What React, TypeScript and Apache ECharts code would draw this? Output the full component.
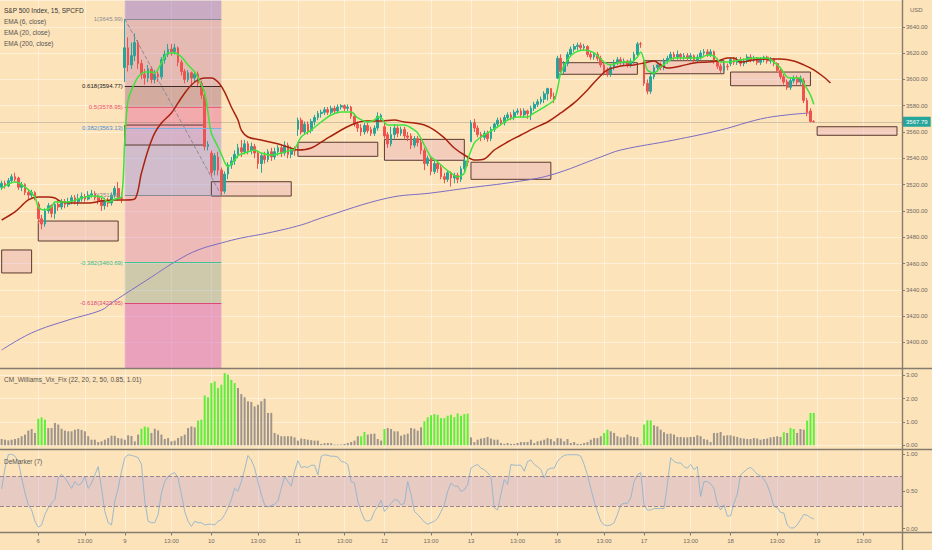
import React, { useRef, useEffect } from 'react';
import * as echarts from 'echarts';

const FONT = 'Liberation Sans, Arial, sans-serif';

// trading days on the time axis (Nov 5 only from 13:15 on)
const days = ['11-05', '11-06', '11-09', '11-10', '11-11', '11-12', '11-13', '11-16', '11-17', '11-18', '11-19'];
const firstTime = '13:15';

// 15 min candles, [open, close, low, high]
const nov5 = [
  [3518, 3521, 3516, 3523], [3521, 3519, 3517, 3523], [3519, 3523, 3518, 3525], [3523, 3526, 3521, 3528],
  [3526, 3524, 3522, 3529], [3525, 3518, 3516, 3526], [3518, 3520, 3515, 3522], [3520, 3514, 3512, 3521],
  [3514, 3512, 3509, 3516], [3512, 3514, 3510, 3516], [3514, 3510.5, 3508, 3515],
];
const nov6 = [
  [3505, 3494, 3490, 3507], [3494, 3490, 3486, 3497], [3490, 3500, 3488, 3502], [3500, 3504, 3498, 3506],
  [3504, 3498, 3495, 3505], [3498, 3505, 3494, 3507], [3505, 3503, 3500, 3508], [3503, 3507, 3501, 3509],
  [3507, 3505, 3502, 3509], [3505, 3507, 3503, 3510], [3507, 3510, 3505, 3512], [3510, 3507, 3505, 3512],
  [3507, 3509, 3504, 3513], [3509, 3511, 3507, 3514], [3511, 3509, 3507, 3513], [3509, 3512, 3508, 3515],
  [3512, 3513, 3510, 3516], [3513, 3510, 3508, 3515], [3510, 3508, 3505, 3512], [3508, 3504, 3500, 3510],
  [3504, 3508, 3501, 3510], [3508, 3506, 3503, 3510], [3506, 3512, 3504, 3514], [3512, 3517, 3510, 3519],
  [3517, 3510, 3508, 3522], [3510, 3509.4, 3506, 3514],
];
const nov9 = [
  [3609, 3624, 3598, 3646], [3624, 3611, 3606, 3632], [3611, 3618, 3608, 3628], [3618, 3628, 3614, 3635],
  [3628, 3612, 3608, 3630], [3612, 3604, 3600, 3615], [3604, 3601, 3596, 3608], [3601, 3608, 3598, 3611],
  [3608, 3600, 3597, 3610], [3600, 3604, 3597, 3607], [3604, 3602, 3598, 3606], [3602, 3615, 3600, 3617],
  [3615, 3619, 3612, 3622], [3619, 3623, 3617, 3627], [3623, 3621, 3618, 3627], [3621, 3624, 3619, 3627],
  [3624, 3613, 3610, 3625], [3613, 3606, 3603, 3615], [3606, 3600, 3597, 3608], [3600, 3605, 3598, 3607],
  [3605, 3601, 3596, 3606], [3601, 3604, 3598, 3606], [3604, 3597, 3594, 3606], [3597, 3588, 3585, 3599],
  [3588, 3549, 3546, 3592], [3549, 3550.5, 3546, 3553],
];
const nov10 = [
  [3544, 3529, 3526, 3546], [3531, 3542, 3527, 3544], [3541, 3531, 3527, 3545], [3531, 3515, 3511.9, 3533],
  [3515, 3528, 3513, 3530], [3528, 3535, 3524, 3537], [3535, 3538, 3532, 3541], [3538, 3543, 3535, 3546],
  [3543, 3548, 3540, 3551], [3548, 3545, 3541, 3554], [3545, 3551, 3543, 3554], [3551, 3546, 3543, 3553],
  [3546, 3549, 3543, 3552], [3549, 3544, 3540, 3551], [3544, 3536, 3532, 3546], [3536, 3542, 3529, 3544],
  [3542, 3539, 3536, 3545], [3539, 3545, 3537, 3547], [3545, 3541, 3538, 3548], [3541, 3545, 3539, 3548],
  [3545, 3548, 3542, 3550], [3548, 3544, 3541, 3550], [3544, 3550, 3542, 3553], [3550, 3543, 3540, 3552],
  [3543, 3547, 3540, 3549], [3547, 3545.5, 3542, 3549],
];
const nov11 = [
  [3562, 3569, 3557, 3571], [3569, 3560, 3558, 3571], [3560, 3566, 3558, 3568], [3566, 3561, 3558, 3568],
  [3561, 3568, 3559, 3570], [3568, 3571, 3565, 3573], [3571, 3574, 3569, 3576], [3574, 3575, 3571, 3577],
  [3575, 3577, 3573, 3579], [3577, 3575, 3573, 3579], [3575, 3578, 3573, 3580], [3578, 3576, 3574, 3580],
  [3576, 3579, 3574, 3581], [3579, 3580, 3577, 3581.2], [3580, 3578, 3576, 3581], [3578, 3579, 3576, 3581],
  [3579, 3572, 3570, 3580], [3572, 3566, 3564, 3574], [3566, 3563, 3560, 3568], [3563, 3560, 3557, 3566],
  [3560, 3565, 3558, 3567], [3565, 3561, 3559, 3567], [3562, 3559, 3557, 3564], [3559, 3563, 3557, 3565],
  [3563, 3572, 3561, 3575], [3571, 3572.7, 3569, 3574],
];
const nov12 = [
  [3564, 3557, 3555, 3569], [3558, 3551, 3548, 3560], [3551, 3558, 3549, 3564], [3558, 3563, 3555, 3566],
  [3563, 3559, 3556, 3565], [3559, 3562, 3557, 3564], [3562, 3557, 3555, 3564], [3557, 3556, 3553, 3560],
  [3557, 3550, 3547, 3559], [3550, 3555, 3548, 3557], [3555, 3552, 3549, 3557], [3552, 3546, 3543, 3554],
  [3546, 3536, 3531, 3548], [3536, 3540, 3534, 3542], [3540, 3530, 3527, 3541], [3530, 3536, 3528, 3538],
  [3536, 3532, 3529, 3538], [3533, 3526, 3524, 3535], [3526, 3524, 3521, 3529], [3524, 3529, 3522, 3531],
  [3529, 3525, 3518.6, 3530], [3525, 3527, 3521, 3529], [3527, 3524, 3521, 3529], [3524, 3532, 3522, 3534],
  [3532, 3538, 3530, 3540], [3538, 3537, 3534, 3542],
];
const nov13 = [
  [3552.6, 3567, 3552.6, 3569], [3567, 3563, 3560, 3570], [3563, 3558, 3556, 3565], [3558, 3556, 3553, 3560],
  [3556, 3559, 3554, 3561], [3559, 3555, 3552.6, 3561], [3555, 3562, 3553, 3564], [3562, 3566, 3560, 3567],
  [3566, 3569, 3564, 3571], [3569, 3567, 3565, 3571], [3567, 3571, 3565, 3573], [3571, 3573, 3569, 3575],
  [3573, 3571, 3569, 3575], [3571, 3575, 3569, 3577], [3575, 3576, 3573, 3578], [3576, 3573, 3571, 3578],
  [3573, 3576, 3571, 3578], [3576, 3574, 3570, 3577], [3574, 3578, 3569, 3580], [3578, 3581, 3576, 3583],
  [3581, 3583, 3579, 3585], [3583, 3585, 3581, 3587], [3585, 3589, 3582, 3591], [3589, 3593, 3584, 3593.7],
  [3593, 3587, 3585, 3593.5], [3587, 3585.2, 3582, 3590],
];
const nov16 = [
  [3601, 3616, 3600.2, 3618], [3616, 3606, 3603, 3619], [3606, 3612, 3604, 3614], [3612, 3619, 3610, 3621],
  [3619, 3623, 3617, 3625], [3623, 3625, 3621, 3627], [3625, 3626, 3622, 3628], [3626, 3624, 3622, 3628],
  [3624, 3625, 3622, 3627], [3625, 3619, 3617, 3626], [3619, 3617, 3615, 3621], [3617, 3619, 3615, 3621],
  [3619, 3616, 3614, 3621], [3616, 3611, 3609, 3618], [3611, 3605, 3603, 3613], [3607, 3604, 3602, 3609],
  [3604, 3609, 3602, 3611], [3609, 3613, 3607, 3615], [3613, 3615, 3611, 3617], [3615, 3613, 3611, 3617],
  [3613, 3614, 3610, 3616], [3614, 3611, 3609, 3615], [3611, 3614, 3609, 3616], [3614, 3619, 3612, 3621],
  [3619, 3627, 3617, 3628.5], [3627, 3626.9, 3624, 3628.5],
];
const nov17 = [
  [3613, 3597, 3595, 3615], [3597, 3591, 3588.7, 3600], [3591, 3602, 3589, 3604], [3602, 3609, 3600, 3611],
  [3609, 3611, 3606, 3613], [3611, 3609, 3607, 3613], [3609, 3614, 3607, 3616], [3614, 3616, 3612, 3618],
  [3616, 3619, 3614, 3621], [3619, 3617, 3615, 3621], [3617, 3619, 3615, 3622], [3619, 3617, 3615, 3620],
  [3617, 3618, 3615, 3620], [3618, 3616, 3614, 3620], [3616, 3618, 3614, 3620], [3618, 3615, 3613, 3619],
  [3615, 3617, 3613, 3619], [3617, 3620, 3615, 3622], [3620, 3621, 3618, 3623.1], [3621, 3619, 3617, 3623],
  [3619, 3621, 3617, 3623], [3621, 3614, 3612, 3622], [3614, 3610, 3608, 3616], [3610, 3607, 3605, 3612],
  [3607, 3610, 3605, 3612], [3610, 3609.5, 3607, 3612],
];
const nov18 = [
  [3612, 3615, 3610, 3617], [3615, 3613, 3611, 3617], [3613, 3615, 3611, 3617], [3615, 3612, 3610, 3617],
  [3612, 3614, 3610, 3616], [3614, 3617, 3612, 3619.1], [3617, 3615, 3613, 3619], [3615, 3616, 3613, 3618],
  [3616, 3613, 3611, 3617], [3613, 3615, 3611, 3617], [3615, 3617, 3613, 3618], [3617, 3614, 3612, 3618],
  [3614, 3615, 3612, 3617], [3615, 3612, 3610, 3616], [3612, 3607, 3605, 3613], [3607, 3602, 3600, 3609],
  [3602, 3598, 3596, 3604], [3598, 3594, 3592, 3600], [3594, 3599, 3592, 3601], [3599, 3601, 3597, 3603],
  [3601, 3598, 3596, 3603], [3598, 3601, 3596, 3603], [3599, 3584, 3582, 3601], [3584, 3575, 3572, 3586],
  [3576, 3568, 3567.3, 3578], [3568, 3567.79, 3567.3, 3569],
];

// EMA lines, [bar index, price]
const ema6Points = [
  [0, 3517.4], [4, 3522.0], [7, 3518.2], [10, 3510.6], [11, 3503.0], [13, 3500.7], [15, 3503.0], [16, 3506.8],
  [20, 3506.8], [24, 3509.8], [27, 3511.3], [30, 3510.6], [32, 3506.8], [34, 3509.1], [36, 3510.6], [37, 3553.9],
  [38, 3584.4], [40, 3597.3], [41, 3601.8], [43, 3605.6], [45, 3605.6], [46, 3604.9], [48, 3612.5], [50, 3620.1],
  [52, 3620.1], [54, 3617.1], [56, 3611.0], [58, 3605.6], [59, 3601.1], [61, 3589.7], [62, 3574.5], [63, 3559.3],
  [65, 3548.6], [66, 3543.0], [68, 3533.6], [70, 3538.7], [71, 3542.0], [74, 3544.8], [76, 3546.3], [78, 3544.0],
  [81, 3542.5], [84, 3544.0], [87, 3546.3], [88, 3547.0], [90, 3556.2], [93, 3561.5], [96, 3567.6], [99, 3572.9],
  [102, 3575.2], [105, 3575.2], [107, 3570.7], [110, 3567.6], [112, 3569.1], [113, 3571.4], [114, 3570.7],
  [116, 3565.3], [119, 3565.3], [121, 3565.3], [124, 3561.5], [125, 3559.3], [127, 3550.1], [129, 3541.0],
  [131, 3537.2], [133, 3532.6], [135, 3528.8], [137, 3525.8], [139, 3528.8], [140, 3538.7], [142, 3551.6],
  [144, 3556.2], [146, 3559.3], [149, 3563.8], [152, 3569.1], [155, 3571.4], [158, 3571.4], [160, 3574.5],
  [163, 3579.0], [166, 3584.4], [167, 3593.0], [168, 3605.0], [170, 3614.8], [172, 3620.1], [175, 3622.4],
  [178, 3620.1], [181, 3613.2], [183, 3611.0], [185, 3612.5], [187, 3613.2], [189, 3613.2], [191, 3617.1],
  [192, 3620.9], [193, 3614.8], [194, 3607.2], [196, 3604.9], [198, 3609.4], [200, 3613.2], [202, 3616.3],
  [206, 3616.3], [210, 3616.3], [212, 3618.6], [214, 3617.8], [216, 3613.2], [218, 3613.2], [222, 3614.8],
  [226, 3616.3], [230, 3616.3], [232, 3613.2], [234, 3608.7], [236, 3601.8], [238, 3601.1], [240, 3601.1],
  [241, 3597.0], [243, 3588.0], [244, 3581.0],
];
const ema20Points = [
  [0, 3493.1], [4, 3499.2], [8, 3508.3], [11, 3510.6], [14, 3510.6], [16, 3509.8], [18, 3506.8], [22, 3506.0],
  [26, 3506.0], [30, 3507.5], [34, 3508.3], [37, 3508.3], [40, 3509.1], [42, 3528.8], [44, 3546.3], [46, 3559.3],
  [48, 3566.9], [51, 3574.5], [53, 3582.1], [55, 3589.7], [57, 3595.8], [59, 3599.6], [61, 3601.1], [63, 3601.1],
  [65, 3598.0], [67, 3590.4], [69, 3579.0], [71, 3569.1], [72, 3561.5], [74, 3556.2], [78, 3553.9], [82, 3551.6],
  [86, 3548.6], [89, 3546.3], [93, 3547.8], [97, 3553.9], [101, 3560.0], [105, 3565.3], [109, 3568.4],
  [114, 3568.4], [118, 3569.1], [121, 3567.6], [124, 3566.9], [127, 3565.3], [130, 3561.5], [133, 3555.5],
  [136, 3547.8], [139, 3542.5], [142, 3538.7], [145, 3539.5], [148, 3546.3], [152, 3552.4], [156, 3557.7],
  [160, 3563.0], [164, 3567.6], [168, 3574.5], [172, 3582.1], [176, 3592.0], [179, 3600.3], [182, 3607.2],
  [186, 3610.2], [190, 3611.0], [193, 3612.5], [196, 3614.0], [198, 3611.0], [200, 3608.7], [204, 3610.2],
  [208, 3612.5], [212, 3613.2], [215, 3614.0], [218, 3616.3], [220, 3616.3], [222, 3613.2], [226, 3614.8],
  [230, 3615.5], [234, 3615.5], [238, 3614.0], [241, 3611.0], [244, 3607.2], [247, 3601.8], [249, 3597.3],
];
const ema200Points = [
  [0, 3394.2], [9, 3407.2], [20, 3417.0], [30, 3424.6], [33, 3430.0], [45, 3449.7], [53, 3462.7], [59, 3470.3],
  [66, 3475.6], [72, 3479.4], [80, 3483.2], [90, 3489.3], [96, 3494.6], [116, 3509.8], [129, 3513.6],
  [140, 3517.4], [154, 3522.0], [165, 3527.3], [180, 3541.0], [186, 3546.3], [202, 3553.9], [216, 3561.5],
  [228, 3569.9], [236, 3573.0], [243, 3574.5],
];

// CM_Williams_Vix_Fix histogram, one value per bar
const vixValues = [
  0.27, 0.24, 0.21, 0.24, 0.27, 0.31, 0.39, 0.46, 0.63, 0.70,
  0.53, 1.14, 1.20, 1.10, 0.74, 0.74, 0.96, 0.89, 0.71, 0.63,
  0.60, 0.60, 0.67, 0.70, 0.66, 0.60, 0.39, 0.24, 0.24, 0.14,
  0.17, 0.24, 0.31, 0.41, 0.41, 0.31, 0.29, 0.24, 0.43, 0.40,
  0.17, 0.46, 0.71, 0.80, 0.77, 0.53, 0.71, 0.64, 0.46, 0.27,
  0.31, 0.17, 0.20, 0.31, 0.39, 0.46, 0.74, 0.81, 0.77, 1.06,
  1.10, 2.14, 2.06, 2.67, 2.74, 2.46, 2.60, 3.10, 3.03, 2.81,
  2.67, 2.46, 2.20, 2.06, 1.89, 1.86, 1.67, 1.74, 1.89, 2.00,
  1.39, 1.39, 0.53, 0.46, 0.39, 0.39, 0.39, 0.39, 0.34, 0.20,
  0.29, 0.27, 0.24, 0.22, 0.20, 0.20, 0.06, 0.09, 0.10, 0.09,
  0.03, 0.03, 0.03, 0.06, 0.10, 0.14, 0.20, 0.39, 0.39, 0.57,
  0.46, 0.49, 0.50, 0.27, 0.20, 0.70, 0.74, 0.70, 0.60, 0.60,
  0.41, 0.46, 0.50, 0.74, 0.71, 0.63, 0.77, 1.03, 1.20, 1.29,
  1.34, 1.31, 1.17, 1.17, 1.27, 1.31, 1.21, 1.37, 1.27, 1.34,
  1.36, 0.34, 0.14, 0.24, 0.29, 0.31, 0.36, 0.29, 0.24, 0.24,
  0.10, 0.06, 0.10, 0.06, 0.06, 0.10, 0.14, 0.14, 0.14, 0.24,
  0.10, 0.17, 0.20, 0.24, 0.31, 0.27, 0.17, 0.31, 0.29, 0.17,
  0.27, 0.10, 0.14, 0.06, 0.06, 0.10, 0.14, 0.24, 0.31, 0.31,
  0.39, 0.53, 0.67, 0.60, 0.53, 0.39, 0.34, 0.34, 0.46, 0.39,
  0.36, 0.34, 0.03, 0.89, 1.07, 1.07, 0.86, 0.81, 0.67, 0.56,
  0.49, 0.50, 0.46, 0.36, 0.36, 0.34, 0.34, 0.36, 0.36, 0.43,
  0.39, 0.27, 0.24, 0.14, 0.53, 0.53, 0.57, 0.41, 0.43, 0.43,
  0.39, 0.36, 0.31, 0.29, 0.27, 0.27, 0.31, 0.29, 0.24, 0.27,
  0.29, 0.34, 0.36, 0.39, 0.36, 0.56, 0.53, 0.74, 0.70, 0.53,
  0.70, 0.67, 1.06, 1.39, 1.39,
];
// bar index runs where the Vix Fix is above its band (lime bars)
const vixAlertRuns = [[11, 13], [42, 44], [59, 70], [108, 109], [115, 115], [127, 140], [181, 182], [193, 195], [235, 235], [237, 238], [242, 244]];

// DeMarker (7), one value per bar
const demarkerValues = [
  0.53, 0.81, 0.99, 1.00, 0.97, 0.90, 0.68, 0.48, 0.32, 0.25,
  0.10, 0.02, 0.05, 0.19, 0.28, 0.34, 0.39, 0.68, 0.73, 0.68,
  0.61, 0.54, 0.63, 0.58, 0.61, 0.70, 0.54, 0.61, 0.72, 0.83,
  0.54, 0.23, 0.08, 0.05, 0.37, 0.54, 0.77, 0.95, 0.99, 0.98,
  0.97, 0.95, 0.86, 0.37, 0.10, 0.08, 0.08, 0.19, 0.48, 0.63,
  0.70, 0.73, 0.75, 0.68, 0.46, 0.23, 0.10, 0.03, 0.10, 0.08,
  0.08, 0.05, 0.06, 0.06, 0.05, 0.10, 0.12, 0.19, 0.28, 0.39,
  0.54, 0.50, 0.63, 0.79, 0.98, 0.92, 0.81, 0.63, 0.46, 0.32,
  0.29, 0.31, 0.33, 0.37, 0.54, 0.70, 0.63, 0.57, 0.77, 0.91,
  0.82, 0.83, 0.82, 0.85, 0.85, 0.72, 0.97, 0.99, 0.98, 0.97,
  0.97, 0.96, 0.90, 0.89, 0.86, 0.63, 0.61, 0.37, 0.23, 0.12,
  0.10, 0.12, 0.23, 0.30, 0.38, 0.23, 0.28, 0.34, 0.39, 0.38,
  0.32, 0.34, 0.63, 0.46, 0.23, 0.19, 0.14, 0.09, 0.06, 0.08,
  0.10, 0.14, 0.23, 0.32, 0.50, 0.61, 0.57, 0.57, 0.50, 0.52,
  0.59, 0.81, 0.84, 0.86, 0.81, 0.79, 0.75, 0.70, 0.28, 0.25,
  0.46, 0.66, 0.59, 0.86, 0.85, 0.85, 0.85, 0.77, 0.90, 0.92,
  0.86, 0.83, 0.79, 0.68, 0.79, 0.81, 0.81, 0.90, 0.95, 0.98,
  0.99, 0.99, 0.99, 0.99, 0.97, 0.86, 0.72, 0.54, 0.37, 0.23,
  0.10, 0.05, 0.04, 0.05, 0.08, 0.19, 0.32, 0.34, 0.34, 0.41,
  0.63, 0.72, 0.75, 0.32, 0.25, 0.25, 0.27, 0.27, 0.27, 0.27,
  0.59, 0.95, 0.90, 0.88, 0.88, 0.83, 0.81, 0.86, 0.79, 0.83,
  0.43, 0.63, 0.63, 0.60, 0.54, 0.34, 0.25, 0.32, 0.17, 0.17,
  0.34, 0.46, 0.72, 0.76, 0.80, 0.82, 0.78, 0.73, 0.71, 0.66,
  0.59, 0.46, 0.30, 0.28, 0.22, 0.21, 0.05, 0.01, 0.01, 0.05,
  0.12, 0.19, 0.18, 0.15, 0.13,
];

// Fibonacci retracement drawn from the Nov 9 high to the Nov 10 low
const fibLevels = ['1', '0.618', '0.5', '0.382', '0', '-0.382', '-0.618'];
const fibPrices = [3645.99, 3594.77, 3578.95, 3563.13, 3511.91, 3460.69, 3429.95];
const fibStart = 37;
const fibEnd = 66.4;

// drawn boxes: [start bar, end bar, top price, bottom price]
const boxes = [
  [0, 9, 3470.3, 3452.8],
  [11, 35, 3492.3, 3477.1],
  [37, 61, 3565.3, 3550.1],
  [63, 87, 3522.2, 3511.3],
  [89, 113, 3552.2, 3541.5],
  [115, 139, 3554.4, 3538.5],
  [141, 165, 3537.0, 3524.0],
  [167, 191, 3612.7, 3603.9],
  [193, 217, 3614.2, 3604.3],
  [219, 243, 3605.6, 3595.2],
  [245, 269, 3564.0, 3557.5],
];

const candles = [...nov5, ...nov6, ...nov9, ...nov10, ...nov11, ...nov12, ...nov13, ...nov16, ...nov17, ...nov18];

const sessionTimes: string[] = [];
for (let m = 9 * 60 + 30; m < 16 * 60; m += 15) {
  sessionTimes.push(`${String(Math.floor(m / 60)).padStart(2, '0')}:${String(m % 60).padStart(2, '0')}`);
}
const categories = days.flatMap((d, k) =>
  sessionTimes.filter((t) => k > 0 || t >= firstTime).map((t) => `${d} ${t}`)
);

const isTimeMark = (_i: number, v: string) => v.endsWith('09:30') || v.endsWith('13:00');
const timeLabel = (v: string) => (v.endsWith('13:00') ? '13:00' : String(Number(v.slice(3, 5))));

const BG = '#fde3b9';
const GRIDLINE = 'rgba(255,255,255,0.45)';
const SEP = '#857b6f';
const AXIS_TEXT = '#6f6a64';

const fibBandColors = [
  'rgba(149,117,205,0.5)',
  'rgba(190,120,170,0.38)',
  'rgba(150,90,120,0.4)',
  'rgba(230,100,160,0.45)',
  'rgba(140,130,230,0.4)',
  'rgba(210,120,185,0.38)',
  'rgba(130,160,150,0.38)',
  'rgba(210,80,190,0.45)',
];
const fibLineColors = ['#8a8a96', '#3b2b2b', '#f0607a', '#7fb0e0', '#8a8a96', '#45c08f', '#e0457b'];
const fibTextColors = ['#8a8a96', '#222222', '#f0506e', '#4a8fd8', '#8a8a96', '#36b585', '#d84a7b'];

const App = () => {
  const chartRef = useRef<HTMLDivElement>(null);

  useEffect(() => {
    const myChart = echarts.init(chartRef.current, null, { renderer: 'svg' });

    const bounds = [3660, ...fibPrices, 3380];
    const fibBands = fibBandColors.map((color, k) => [
      { xAxis: fibStart, yAxis: bounds[k], itemStyle: { color } },
      { xAxis: fibEnd, yAxis: bounds[k + 1] },
    ]);
    const fibLines: any[] = fibPrices.map((p, k) => [
      {
        coord: [fibStart, p],
        lineStyle: { color: fibLineColors[k], width: 1, type: 'solid' },
        label: {
          show: true, position: 'start', distance: 2, formatter: `${fibLevels[k]}(${p.toFixed(2)})`,
          color: fibTextColors[k], fontSize: 6, fontFamily: FONT,
        },
      },
      { coord: [fibEnd, p] },
    ]);
    fibLines.push([
      { coord: [fibStart, fibPrices[0]], lineStyle: { color: '#8a8a96', width: 1, type: 'dashed' }, label: { show: false } },
      { coord: [fibEnd, fibPrices[4]] },
    ]);

    const lastClose = candles[candles.length - 1][1];
    const inAlert = (i: number) => vixAlertRuns.some(([a, b]) => i >= a && i <= b);

    const hiddenX = (gridIndex: number) => ({
      type: 'category', gridIndex, data: categories, boundaryGap: true, show: false,
    });
    const rightY = (gridIndex: number, min: number, max: number, interval: number, splitShow = true) => ({
      type: 'value', gridIndex, position: 'right', min, max, interval, scale: false,
      axisLine: { show: false },
      axisTick: { show: true, length: 3, lineStyle: { color: SEP } },
      axisLabel: {
        color: AXIS_TEXT, fontSize: 6, fontFamily: FONT, margin: 4,
        showMinLabel: min === 0, showMaxLabel: max === 1,
        formatter: (v: number) => v.toFixed(2),
      },
      splitLine: { show: splitShow, lineStyle: { color: GRIDLINE, width: 1 } },
    });
    const legendText = (text: string, y: number, fill = '#555') => ({
      type: 'text', x: 4, y, z: 50,
      style: { text, fill, fontSize: 6.5, fontFamily: FONT, verticalAlign: 'middle', align: 'left' },
    });
    const sepLine = (x1: number, y1: number, x2: number, y2: number) => ({
      type: 'line', z: 60, silent: true,
      shape: { x1, y1, x2, y2 }, style: { stroke: SEP, lineWidth: 1.4 },
    });

    const option: any = {
      animation: false,
      backgroundColor: BG,
      grid: [
        { left: -1.5, right: 30, top: 0, height: 532.5 },
        { left: -1.5, right: 30, top: 0.5, height: 368.2 },
        { left: -1.5, right: 30, top: 368, height: 77.3 },
        { left: -1.5, right: 30, top: 454, height: 74.7 },
      ],
      xAxis: [
        {
          type: 'category', gridIndex: 0, data: categories, boundaryGap: true,
          axisLine: { show: true, lineStyle: { color: SEP, width: 1.2 } },
          axisTick: { show: true, interval: isTimeMark, alignWithLabel: true, length: 3, lineStyle: { color: SEP } },
          axisLabel: { interval: isTimeMark, formatter: timeLabel, color: AXIS_TEXT, fontSize: 6, fontFamily: FONT, margin: 5 },
          splitLine: { show: true, interval: isTimeMark, alignWithLabel: true, lineStyle: { color: GRIDLINE, width: 1 } },
        },
        hiddenX(1),
        hiddenX(2),
        hiddenX(3),
      ],
      yAxis: [
        { type: 'value', gridIndex: 0, min: 0, max: 1, show: false },
        rightY(1, 3380, 3660, 20),
        rightY(2, 0, 3.317, 1),
        rightY(3, 0, 1, 0.5, false),
      ],
      series: [
        {
          type: 'line', xAxisIndex: 1, yAxisIndex: 1, data: [], z: 1, silent: true,
          markArea: { silent: true, data: fibBands },
          markLine: { silent: true, symbol: ['none', 'none'], data: fibLines },
        },
        {
          type: 'line', xAxisIndex: 1, yAxisIndex: 1, data: [], z: 2, silent: true,
          markArea: {
            silent: true,
            itemStyle: { color: 'rgba(225,160,190,0.35)', borderColor: '#5a3a30', borderWidth: 1 },
            data: boxes.map(([a, b, top, bottom]) => [{ xAxis: a, yAxis: top }, { xAxis: b, yAxis: bottom }]),
          },
        },
        {
          type: 'line', name: 'EMA (200, close)', xAxisIndex: 1, yAxisIndex: 1, data: ema200Points,
          showSymbol: false, smooth: 0.4, z: 3, silent: true,
          lineStyle: { color: '#7a6cc4', width: 1 },
        },
        {
          type: 'candlestick', xAxisIndex: 1, yAxisIndex: 1, data: candles, z: 4, barWidth: 2.2, silent: true,
          itemStyle: { color: '#26a69a', color0: '#ef5350', borderColor: '#26a69a', borderColor0: '#ef5350', borderWidth: 1 },
          markLine: {
            silent: true, symbol: ['none', 'none'],
            lineStyle: { color: 'rgba(110,110,110,0.3)', width: 1, type: 'solid' },
            label: {
              show: true, position: 'end', distance: 1, formatter: lastClose.toFixed(2),
              backgroundColor: '#26a69a', color: '#ffffff', padding: [2, 3], fontSize: 6, fontFamily: FONT,
            },
            data: [{ yAxis: lastClose }],
          },
        },
        {
          type: 'line', name: 'EMA (20, close)', xAxisIndex: 1, yAxisIndex: 1, data: ema20Points,
          showSymbol: false, smooth: 0.3, z: 5, silent: true,
          lineStyle: { color: '#a8220e', width: 1.5 },
        },
        {
          type: 'line', name: 'EMA (6, close)', xAxisIndex: 1, yAxisIndex: 1, data: ema6Points,
          showSymbol: false, smooth: 0.3, z: 6, silent: true,
          lineStyle: { color: '#3ee33b', width: 1.5 },
        },
        {
          type: 'bar', xAxisIndex: 2, yAxisIndex: 2, barWidth: 2, silent: true,
          data: vixValues.map((v, i) => ({ value: v, itemStyle: { color: inAlert(i) ? '#5cf03a' : '#9d958c' } })),
        },
        {
          type: 'line', xAxisIndex: 3, yAxisIndex: 3, data: demarkerValues, showSymbol: false, silent: true,
          lineStyle: { color: '#8fb4d0', width: 0.9 }, z: 3,
          markArea: { silent: true, itemStyle: { color: 'rgba(175,135,215,0.28)' }, data: [[{ yAxis: 0.3 }, { yAxis: 0.7 }]] },
          markLine: {
            silent: true, symbol: ['none', 'none'], label: { show: false },
            lineStyle: { color: '#9a8792', width: 1, type: 'dashed' },
            data: [{ yAxis: 0.3 }, { yAxis: 0.7 }],
          },
        },
      ],
      graphic: [
        legendText('S&P 500 Index, 15, SPCFD', 10, '#333'),
        legendText('EMA (6, close)', 21.7),
        legendText('EMA (20, close)', 32.7),
        legendText('EMA (200, close)', 43.3),
        legendText('CM_Williams_Vix_Fix (22, 20, 2, 50, 0.85, 1.01)', 379.7),
        legendText('DeMarker (7)', 461.3),
        {
          type: 'text', x: 910, y: 10, z: 50,
          style: { text: 'USD', fill: AXIS_TEXT, fontSize: 6, fontFamily: FONT, verticalAlign: 'middle', align: 'left' },
        },
        sepLine(0, 368.5, 932, 368.5),
        sepLine(0, 449.5, 932, 449.5),
        sepLine(0, 532.5, 932, 532.5),
        sepLine(902.5, 0, 902.5, 550),
      ],
    };

    option && myChart.setOption(option);

    return () => {
      myChart.dispose();
    };
  }, []);

  return <div ref={chartRef} style={{ position: 'fixed', left: 0, top: 0, width: '932px', height: '550px' }} />;
};

export default App;
